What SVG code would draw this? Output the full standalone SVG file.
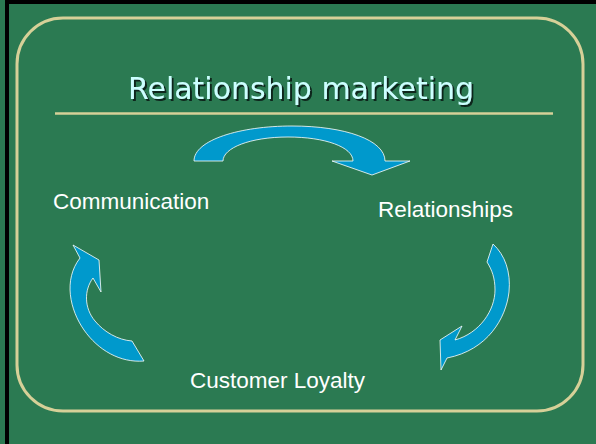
<svg xmlns="http://www.w3.org/2000/svg" width="596" height="444" viewBox="0 0 596 444">
<defs>
<filter id="sh" x="-5%" y="-20%" width="110%" height="140%">
<feDropShadow dx="2" dy="2" stdDeviation="0.4" flood-color="#10261a" flood-opacity="1"/>
</filter>
</defs>
<style>
.lbl{font-family:"Liberation Sans",Arial,sans-serif;font-size:22.5px;fill:#ffffff}
.arr{fill:#0099cc;stroke:#ffffff;stroke-width:0.8;stroke-linejoin:miter}
.ttl{font-family:"Comic Sans MS","DejaVu Sans",sans-serif;font-size:31px;fill:#ccffff}
</style>
<rect x="0" y="0" width="596" height="444" fill="#2b7a52"/>
<rect x="5" y="0" width="591" height="4" fill="#000"/>
<rect x="5" y="0" width="4" height="444" fill="#000"/>
<rect x="17" y="18" width="566" height="393" rx="46" ry="46" fill="none" stroke="#d6d098" stroke-width="3"/>
<g id="title">
<text class="ttl" x="301" y="99" text-anchor="middle" textLength="346" lengthAdjust="spacingAndGlyphs" filter="url(#sh)">Relationship marketing</text>
<line x1="55" y1="113.5" x2="553" y2="113.5" stroke="#d6d098" stroke-width="2.5"/>
</g>
<g id="communication"><text class="lbl" x="53" y="209">Communication</text></g>
<g id="relationships"><text class="lbl" x="378" y="217">Relationships</text></g>
<g id="loyalty"><text class="lbl" x="190" y="388">Customer Loyalty</text></g>
<g id="connectors">
<path class="arr" d="M194,161 C194,140 240,126 292,126 C345,126 385,140 385,161 L410,161 L372,175 L332,161 L353,161 C353,147 325,137 288,137 C250,137 223,148 223,161 Z"/>
<path class="arr" d="M73,245 L99,260 L101,292 L93,278 C84,290 84,308 95,321 C104,332 118,340 132,341 L144,361 C120,363 98,350 84,330 C70,310 63,280 80,258 Z"/>
<path class="arr" d="M493,244 C505,255 511,272 509,292 C506,318 488,350 447,358 L441,370 L440,340 L462,326 L455,340 C480,333 495,310 495,290 C495,278 492,270 487,262 Z"/>
</g>
</svg>
